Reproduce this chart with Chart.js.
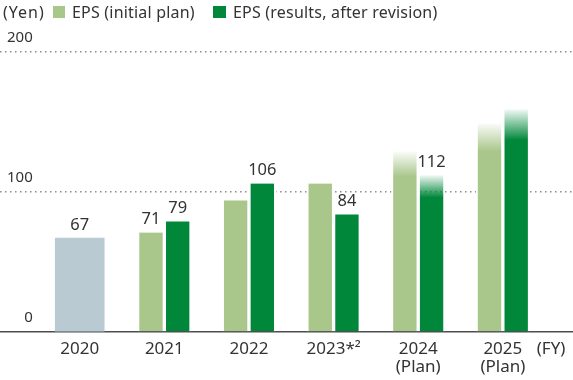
<!DOCTYPE html>
<html lang="en">
<head>
  <meta charset="UTF-8" />
  <title>EPS</title>
  <script src="https://cdn.jsdelivr.net/npm/chart.js"></script>
  <style>
    body {
      margin: 0;
      background: #fff;
      font-family: "Noto Sans", sans-serif;
      color: #333;
    }

    .wrap {
      position: relative;
      width: 573px;
      height: 380px;
    }

    .wrap canvas {
      position: absolute;
      left: 0;
      top: 0;
    }

    .legend span {
      position: absolute;
      top: 1px;
      font-size: 16px;
      letter-spacing: 0.2px;
      line-height: 22px;
      white-space: nowrap;
    }

    .legend .box {
      top: 6px;
      width: 12px;
      height: 12px;
    }
  </style>
</head>
<body>

  <div class="wrap">
    <canvas id="eps" width="573" height="380"></canvas>
    <div class="legend">
      <span style="left:3px; letter-spacing:1px">(Yen)</span>
      <span class="box" style="left:53px; background:#a9c68b"></span>
      <span style="left:72px">EPS (initial plan)</span>
      <span class="box" style="left:213px; width:13px; background:#00873a"></span>
      <span style="left:233px">EPS (results, after revision)</span>
    </div>
  </div>

  <script>
    const years = ['2020', '2021', '2022', '2023*²', ['2024', '(Plan)'], ['2025', '(Plan)']];
    const unitLabel = '(FY)';
    const yTicks = [0, 100, 200];

    const actual2020 = [67, null, null, null, null, null];
    const initialPlan = [null, 71, 94, 106, 129, 149];
    const results = [null, 79, 106, 84, 112, 159];

    // where the faded top of the plan bars turns solid
    const initialPlanFade = [null, null, null, null, 111, 129];
    const resultsFade = [null, null, null, null, 96, 137];

    // which bars carry a value label
    const actualShown = [true, false, false, false, false, false];
    const planShown = [false, true, false, false, false, false];
    const resultsShown = [false, true, true, true, true, false];

    const grey = [185, 202, 211];
    const light = [169, 198, 139];
    const dark = [0, 135, 58];

    const rgba = (c, a) => `rgba(${c[0]},${c[1]},${c[2]},${a})`;
    const toPoints = arr => arr.map((v, i) => ({ x: i, y: v })).filter(p => p.y !== null);

    function fadeFill(color, fadeTo) {
      return ctx => {
        if (ctx.type !== 'data' || !ctx.raw) return rgba(color, 1);
        const stop = fadeTo[ctx.raw.x];
        const y = ctx.chart.scales.y;
        if (stop == null || !y) return rgba(color, 1);
        const top = y.getPixelForValue(ctx.raw.y);
        const end = y.getPixelForValue(stop);
        const g = ctx.chart.ctx.createLinearGradient(0, top, 0, end);
        g.addColorStop(0, rgba(color, 0.05));
        g.addColorStop(1, rgba(color, 1));
        return g;
      };
    }

    const labelFlags = [actualShown, planShown, resultsShown];

    const valueLabels = {
      id: 'valueLabels',
      afterDatasetsDraw(chart) {
        const c = chart.ctx;
        c.save();
        c.font = '16.5px "Noto Sans"';
        c.fillStyle = '#333';
        c.textAlign = 'center';
        c.textBaseline = 'middle';
        chart.data.datasets.forEach((ds, di) => {
          chart.getDatasetMeta(di).data.forEach((bar, k) => {
            const pt = ds.data[k];
            if (!labelFlags[di][pt.x]) return;
            c.fillText(String(pt.y), bar.x, bar.y - 13);
          });
        });
        c.restore();
      }
    };

    const ctx = document.getElementById('eps').getContext('2d');
    new Chart(ctx, {
      type: 'bar',
      data: {
        datasets: [
          {
            label: 'EPS',
            data: toPoints(actual2020),
            backgroundColor: rgba(grey, 1),
            grouped: false,
            barThickness: 49
          },
          {
            label: 'EPS (initial plan)',
            data: toPoints(initialPlan),
            backgroundColor: fadeFill(light, initialPlanFade),
            borderColor: '#fff',
            borderWidth: { left: 2, right: 2, top: 0, bottom: 0 },
            barThickness: 26.7
          },
          {
            label: 'EPS (results, after revision)',
            data: toPoints(results),
            backgroundColor: fadeFill(dark, resultsFade),
            borderColor: '#fff',
            borderWidth: { left: 2, right: 2, top: 0, bottom: 0 },
            barThickness: 26.7
          }
        ]
      },
      options: {
        responsive: false,
        animation: false,
        layout: { padding: { top: 52, left: 0, right: 0, bottom: 0 } },
        plugins: {
          legend: { display: false },
          tooltip: { enabled: false }
        },
        scales: {
          x: {
            type: 'linear',
            offset: false,
            min: -0.942,
            max: 5.829,
            grid: { display: false, drawTicks: false },
            border: { display: true, color: '#4d4d4d', width: 1.5 },
            afterBuildTicks: s => {
              s.ticks = years.map((_, i) => ({ value: i })).concat([{ value: 5.57 }]);
            },
            afterFit: s => {
              s.height = 48;
              s.paddingLeft = 0;
              s.paddingRight = 0;
            },
            ticks: {
              autoSkip: false,
              maxRotation: 0,
              padding: 8,
              color: '#333',
              font: { family: '"Noto Sans"', size: 17, lineHeight: 1.08 },
              callback: (v, i) => (i < years.length ? years[i] : unitLabel)
            }
          },
          y: {
            min: 0,
            max: 200,
            afterBuildTicks: s => { s.ticks = yTicks.map(v => ({ value: v })); },
            afterFit: s => { s.width = 0; },
            grid: {
              drawTicks: false,
              color: c => (c.tick && c.tick.value === 0 ? 'rgba(0,0,0,0)' : '#8c8c8c'),
              lineWidth: 1.5
            },
            border: { display: false, dash: [1.5, 3.5] },
            ticks: {
              mirror: true,
              padding: 7,
              labelOffset: -14,
              color: '#333',
              font: { family: '"Noto Sans"', size: 15 },
              // figure spaces keep the numbers right aligned
              callback: v => String(v).padStart(3, '\u2007')
            }
          }
        }
      },
      plugins: [valueLabels]
    });
  </script>

</body>
</html>
